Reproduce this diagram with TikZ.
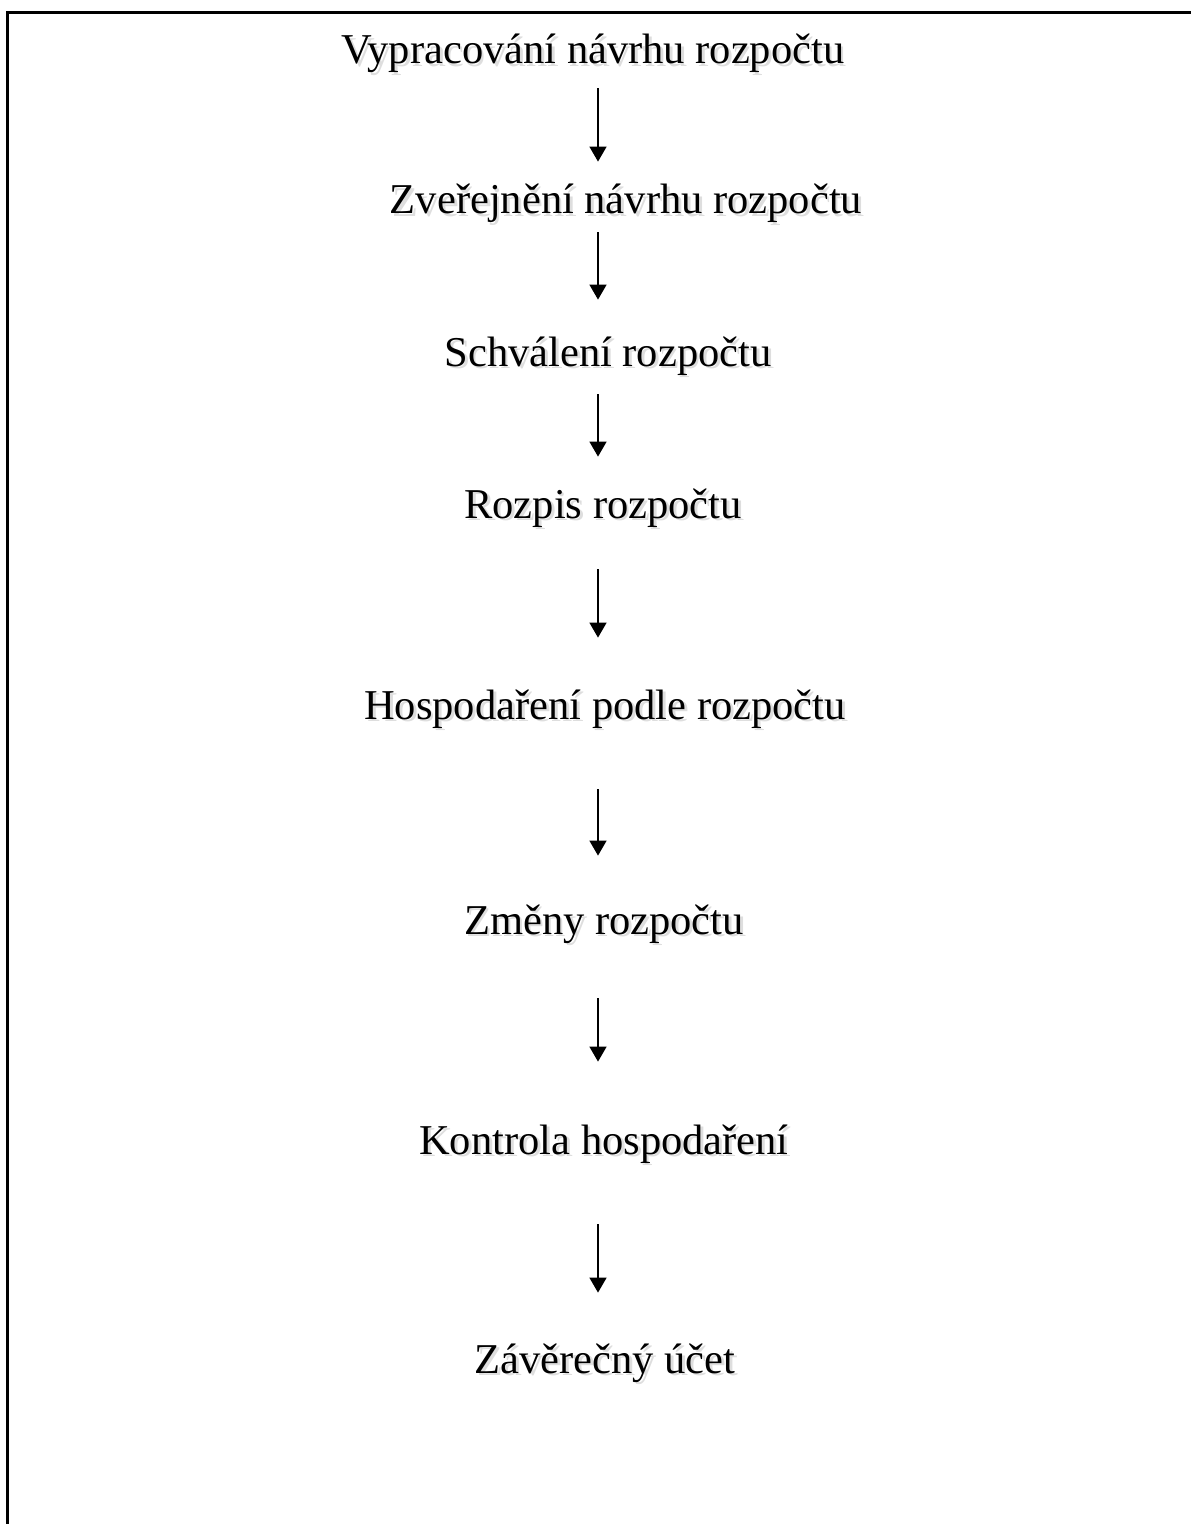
\documentclass[tikz,border=0pt]{standalone}
\usepackage{fontspec}
\setmainfont{Liberation Serif}
\usetikzlibrary{arrows.meta}
\newcommand{\shadowtext}[1]{\rlap{\hspace{1.4pt}\raisebox{-1.4pt}{\textcolor{black!13}{#1}}}#1}
\tikzset{
  stage/.style={anchor=base, inner sep=0pt, text height=16pt, text depth=5pt,
    font=\fontsize{21.25pt}{25pt}\selectfont},
  flow/.style={-{Triangle[width=8.5pt,length=7.5pt]}, line width=0.75pt},
}
\begin{document}
\begin{tikzpicture}[x=0.5pt,y=-0.5pt]
  \useasboundingbox (0,0) rectangle (1191,1524);
  \draw[line width=1.5pt] (7.5,1524) -- (7.5,12.5) -- (1191,12.5);
  \coordinate (axis) at (598,0);
  \node[stage] (vypracovani) at (593,64) {\shadowtext{Vypracování návrhu rozpočtu}};
  \node[stage] (zverejneni) at (626,214) {\shadowtext{Zveřejnění návrhu rozpočtu}};
  \node[stage] (schvaleni) at (608,366) {\shadowtext{Schválení rozpočtu}};
  \node[stage] (rozpis) at (603,518) {\shadowtext{Rozpis rozpočtu}};
  \node[stage] (hospodareni) at (605,719) {\shadowtext{Hospodaření podle rozpočtu}};
  \node[stage] (zmeny) at (604,934) {\shadowtext{Změny rozpočtu}};
  \node[stage] (kontrola) at (604,1154) {\shadowtext{Kontrola hospodaření}};
  \node[stage] (zaverecny) at (605,1373) {\shadowtext{Závěrečný účet}};
  \draw[flow, shorten <=7pt, shorten >=10pt] (vypracovani.south -| axis) -- (zverejneni.north -| axis);
  \draw[flow, shorten <=4pt, shorten >=17pt] (zverejneni.south -| axis) -- (schvaleni.north -| axis);
  \draw[flow, shorten <=9pt, shorten >=14.5pt] (schvaleni.south -| axis) -- (rozpis.north -| axis);
  \draw[flow, shorten <=20.5pt, shorten >=24.5pt] (rozpis.south -| axis) -- (hospodareni.north -| axis);
  \draw[flow, shorten <=30pt, shorten >=23pt] (hospodareni.south -| axis) -- (zmeny.north -| axis);
  \draw[flow, shorten <=27pt, shorten >=30pt] (zmeny.south -| axis) -- (kontrola.north -| axis);
  \draw[flow, shorten <=30pt, shorten >=24pt] (kontrola.south -| axis) -- (zaverecny.north -| axis);
\end{tikzpicture}
\end{document}
